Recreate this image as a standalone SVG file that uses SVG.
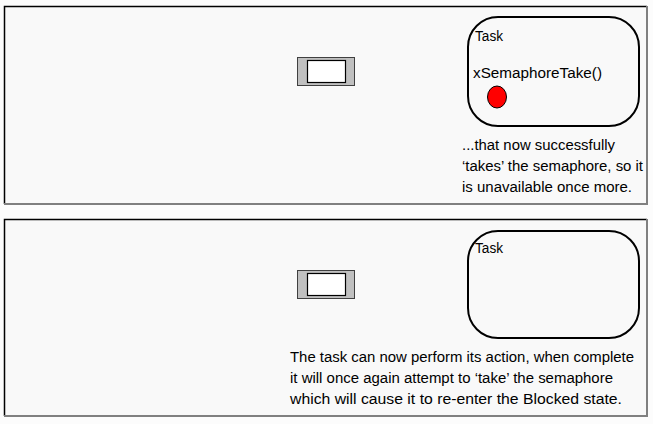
<svg xmlns="http://www.w3.org/2000/svg" width="653" height="424" viewBox="0 0 653 424">
<style>
.panel{fill:#f9f9f9;stroke:none}
.edgeD{stroke:#000;stroke-width:1.5;fill:none}
.edgeL{stroke:#808080;stroke-width:2;fill:none}
.semo{fill:#c0c0c0;stroke:#404040;stroke-width:1}
.semi{fill:#fff;stroke:#000;stroke-width:1.2}
.task{fill:none;stroke:#000;stroke-width:2}
.lbl{font-family:"Liberation Sans",Arial,sans-serif;font-size:14px;fill:#000}
.txt{font-family:"Liberation Sans",Arial,sans-serif;font-size:15.2px;fill:#000}
</style>
<rect width="653" height="424" fill="#fcfcfc"/>
<g id="panel1">
<rect class="panel" x="4" y="6" width="643" height="198"/>
<path class="edgeD" d="M4.5,204 V6.5 H647"/>
<path class="edgeL" d="M647,6 V204 H4"/>
</g>
<g id="panel2">
<rect class="panel" x="4" y="219" width="643" height="197"/>
<path class="edgeD" d="M4.5,416 V219.5 H647"/>
<path class="edgeL" d="M647,219 V416 H4"/>
</g>
<g id="semaphore1">
<rect class="semo" x="297.5" y="57.5" width="57" height="28"/>
<rect class="semi" x="307.5" y="60.5" width="38" height="22"/>
</g>
<g id="task1">
<rect class="task" x="468" y="17" width="171" height="109" rx="30" ry="30"/>
<text class="lbl" x="475" y="41" textLength="28" lengthAdjust="spacingAndGlyphs">Task</text>
<text class="txt" x="473" y="78" textLength="129" lengthAdjust="spacingAndGlyphs">xSemaphoreTake()</text>
<ellipse cx="497" cy="97" rx="9.5" ry="11" fill="#ff0000" stroke="#000" stroke-width="1"/>
</g>
<g id="caption1">
<text class="txt" x="462" y="150" textLength="153" lengthAdjust="spacingAndGlyphs">...that now successfully</text>
<text class="txt" x="462" y="171" textLength="181" lengthAdjust="spacingAndGlyphs">‘takes’ the semaphore, so it</text>
<text class="txt" x="462" y="192" textLength="170" lengthAdjust="spacingAndGlyphs">is unavailable once more.</text>
</g>
<g id="semaphore2">
<rect class="semo" x="297.5" y="270.5" width="57" height="28"/>
<rect class="semi" x="307.5" y="273.5" width="38" height="22"/>
</g>
<g id="task2">
<rect class="task" x="468" y="231" width="171" height="107" rx="30" ry="30"/>
<text class="lbl" x="475" y="253" textLength="28" lengthAdjust="spacingAndGlyphs">Task</text>
</g>
<g id="caption2">
<text class="txt" x="290" y="362" textLength="344" lengthAdjust="spacingAndGlyphs">The task can now perform its action, when complete</text>
<text class="txt" x="290" y="383" textLength="323" lengthAdjust="spacingAndGlyphs">it will once again attempt to ‘take’ the semaphore</text>
<text class="txt" x="290" y="404" textLength="332" lengthAdjust="spacingAndGlyphs">which will cause it to re-enter the Blocked state.</text>
</g>
<g id="connectors"></g>
</svg>
